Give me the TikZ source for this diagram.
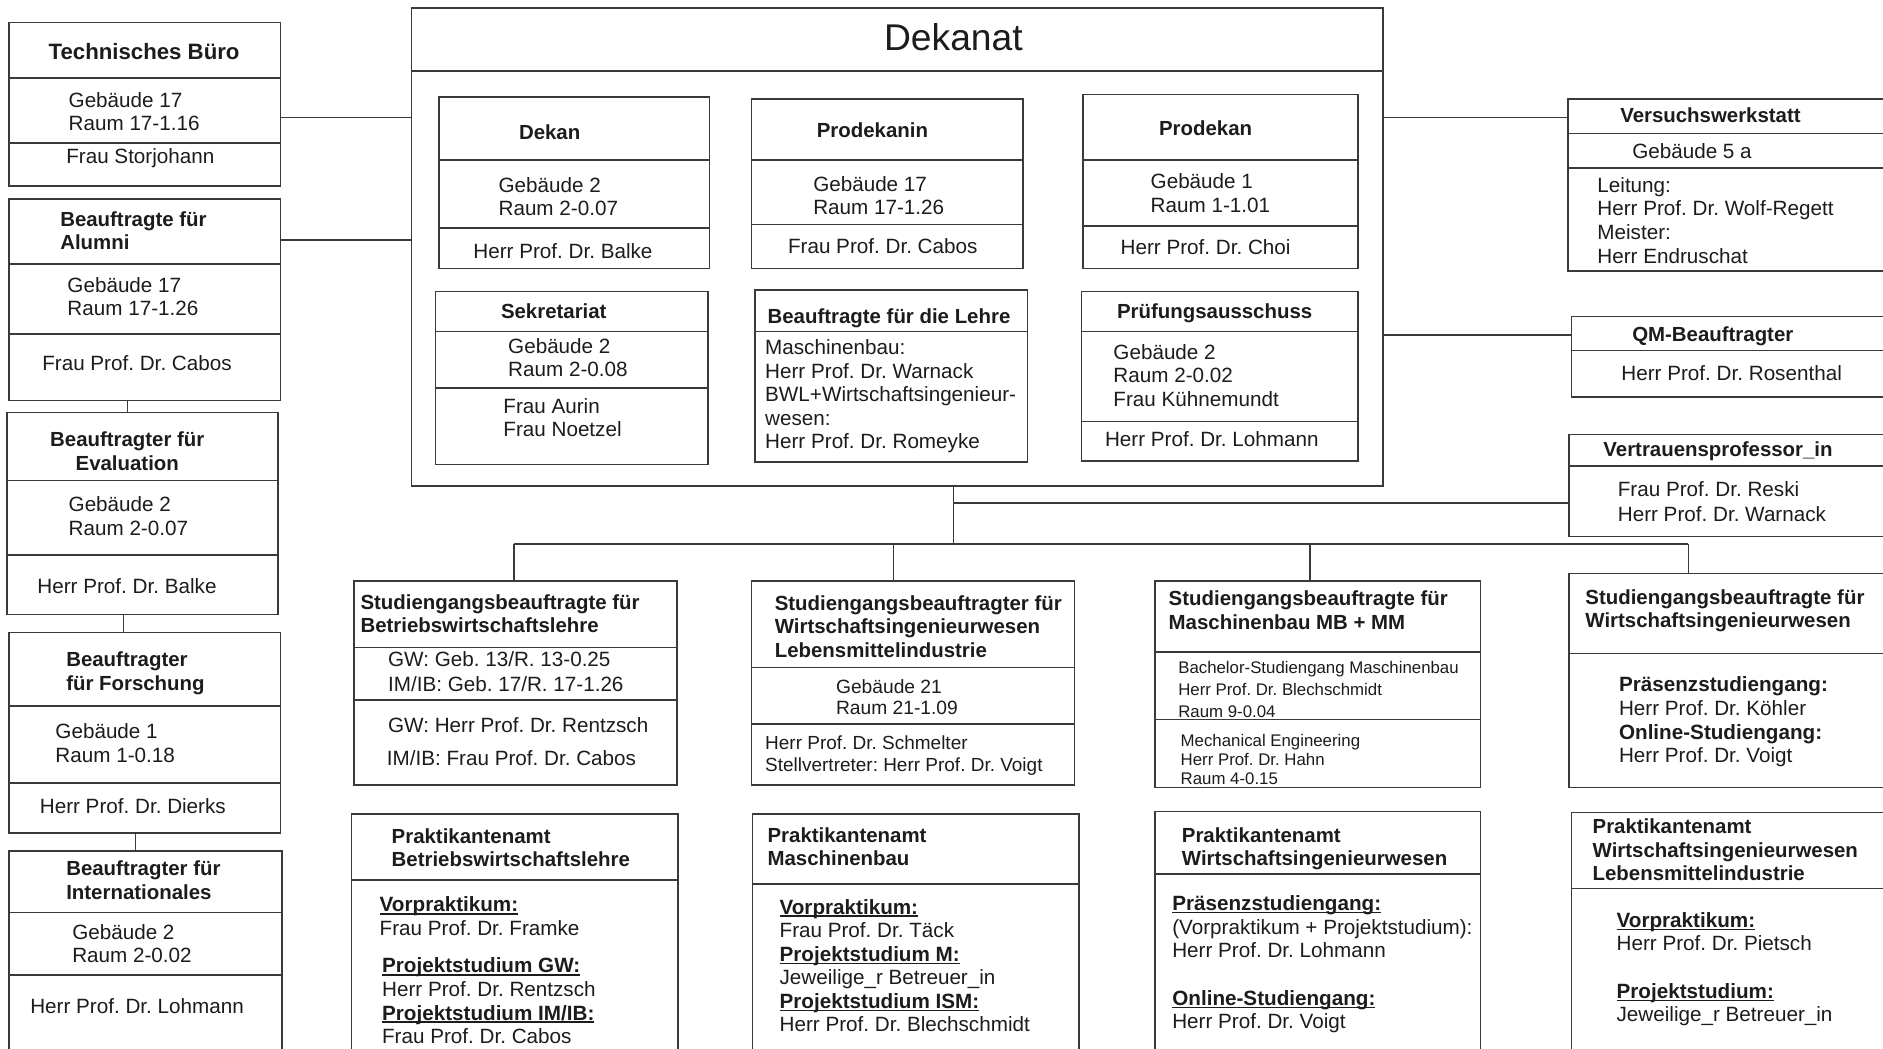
\documentclass[tikz,border=0pt]{standalone}
\usepackage{fontspec}
\setmainfont{Liberation Sans}
\frenchspacing
\definecolor{linec}{HTML}{3A3A3A}
\definecolor{textc}{HTML}{1C1C1C}
\newcommand\fR{\fontsize{17.2}{19.6}\selectfont}
\newcommand\fB{\fontsize{17}{19.6}\selectfont\bfseries}
\newcommand\fS{\fontsize{14}{18}\selectfont}
\newcommand\ms{\rule{0pt}{14pt}}
\newcommand\mss{\rule{0pt}{11.5pt}}
\newcommand\ulb[1]{\setbox0\hbox{\bfseries #1}\rlap{\rule[-2.4pt]{\wd0}{1.3pt}}\box0}
\tikzset{
  ln/.style={draw=linec, line width=1.3pt},
  box/.style={draw=linec, line width=1.3pt, inner sep=0pt},
  tx/.style={inner sep=0pt, anchor=north west, align=left, text=textc, font=\fR},
  tB/.style={tx, font=\fB},
  tBc/.style={inner sep=0pt, anchor=north, align=center, text=textc, font=\fB},
  tS/.style={tx, font=\fS},
}
\newcommand\bx[6]{%
  \node[box, anchor=north west, minimum width={(#4)-(#2)}, minimum height={(#5)-(#3)}] (#1) at (#2,#3) {};
  \foreach \dy in {#6} {\draw[ln] (#2,\dy) -- (#4,\dy);}
}
\begin{document}
\frenchspacing
\begin{tikzpicture}[x=1pt,y=-1pt]
\fill[white] (0,0) rectangle (1568,873);
\useasboundingbox (0,0) rectangle (1568,873);

% left column
\bx{tb}{7}{18}{233}{154}{65,119}
\bx{al}{7}{165}{233}{333}{220,278}
\bx{ev}{5}{343}{231}{511}{400,462}
\bx{fo}{7}{526}{233}{693}{588,652}
\bx{in}{7}{708}{234}{885}{760,812}

% Dekanat
\bx{dek}{342}{6}{1151}{404}{59}
\bx{dn}{365}{80}{590}{223}{133,190}
\bx{pdn}{625}{82}{851}{223}{133,187}
\bx{pd}{901}{78}{1130}{223}{133,188}
\bx{sk}{362}{242}{589}{386}{276,323}
\bx{le}{628}{241}{855}{384}{276}
\bx{pa}{900}{242}{1130}{383}{276,351}

% right column
\bx{vw}{1305}{82}{1585}{225}{111,140}
\bx{qm}{1308}{263}{1585}{330}{292}
\bx{vp}{1306}{361}{1585}{446}{388}

% lower rows
\bx{sb}{294}{483}{563}{653}{539,583}
\bx{sw}{625}{483}{894}{653}{556,603}
\bx{sm}{961}{483}{1232}{655}{543,599}
\bx{si}{1306}{477}{1585}{655}{544}
\bx{pb}{292}{677}{564}{885}{733}
\bx{pm}{626}{677}{898}{885}{736}
\bx{pw}{961}{675}{1232}{885}{728}
\bx{pl}{1308}{676}{1585}{885}{740}

% connectors
\draw[ln] (tb.east |- 0,98) -- (dek.west |- 0,98);
\draw[ln] (al.east |- 0,200) -- (dek.west |- 0,200);
\draw[ln] (al.south -| 106,0) -- (ev.north -| 106,0);
\draw[ln] (ev.south -| 103,0) -- (fo.north -| 103,0);
\draw[ln] (fo.south -| 113,0) -- (in.north -| 113,0);
\draw[ln] (dek.east |- 0,98) -- (vw.west |- 0,98);
\draw[ln] (dek.east |- 0,279) -- (qm.west |- 0,279);
\coordinate (bj) at (794,453);
\coordinate (bL) at (428,453);
\coordinate (bR) at (1406,453);
\coordinate (bM1) at (744,453);
\coordinate (bM2) at (1091,453);
\draw[ln] (dek.south -| bj) -- (bj);
\draw[ln] (bj |- 0,419) -- (vp.west |- 0,419);
\draw[ln] (bL) -- (bR);
\draw[ln] (bL) -- (bL |- sb.north);
\draw[ln] (bM1) -- (bM1 |- sw.north);
\draw[ln] (bM2) -- (bM2 |- sm.north);
\draw[ln] (bR) -- (bR |- si.north);

% texts left column
\node[tBc, font=\fontsize{18.5}{20}\selectfont\bfseries] (tbT) at (120,35) {\ms Technisches Büro};
\node[tx] (tbA) at (57,75) {\ms Gebäude 17\\Raum 17-1.16};
\node[tx] (tbB) at (55,122) {\ms Frau Storjohann};

\node[tB] (alT) at (50,174) {\ms Beauftragte für\\Alumni};
\node[tx] (alA) at (56,229) {\ms Gebäude 17\\Raum 17-1.26};
\node[tx] (alB) at (35,294) {\ms Frau Prof. Dr. Cabos};

\node[tBc] (evT) at (106,358) {\ms Beauftragter für\\Evaluation};
\node[tx] (evA) at (57,412) {\ms Gebäude 2\\Raum 2-0.07};
\node[tx] (evB) at (31,480) {\ms Herr Prof. Dr. Balke};

\node[tB] (foT) at (55,541) {\ms Beauftragter\\für Forschung};
\node[tx] (foA) at (46,601) {\ms Gebäude 1\\Raum 1-0.18};
\node[tx] (foB) at (33,663) {\ms Herr Prof. Dr. Dierks};

\node[tB] (inT) at (55,715) {\ms Beauftragter für\\Internationales};
\node[tx] (inA) at (60,768) {\ms Gebäude 2\\Raum 2-0.02};
\node[tx] (inB) at (25,830) {\ms Herr Prof. Dr. Lohmann};

% Dekanat texts
\node[inner sep=0pt, anchor=base west, text=textc, font=\fontsize{31}{36}\selectfont] (dekT) at (736,42) {Dekanat};

\node[tB] (dnT) at (432,102) {\ms Dekan};
\node[tx] (dnA) at (415,146) {\ms Gebäude 2\\Raum 2-0.07};
\node[tx] (dnB) at (394,201) {\ms Herr Prof. Dr. Balke};

\node[tB] (pdnT) at (680,100) {\ms Prodekanin};
\node[tx] (pdnA) at (677,145) {\ms Gebäude 17\\Raum 17-1.26};
\node[tx] (pdnB) at (656,197) {\ms Frau Prof. Dr. Cabos};

\node[tB] (pdT) at (965,99) {\ms Prodekan};
\node[tx] (pdA) at (958,143) {\ms Gebäude 1\\Raum 1-1.01};
\node[tx] (pdB) at (933,198) {\ms Herr Prof. Dr. Choi};

\node[tB] (skT) at (417,251) {\ms Sekretariat};
\node[tx] (skA) at (423,280) {\ms Gebäude 2\\Raum 2-0.08};
\node[tx] (skB) at (419,330) {\ms Frau Aurin\\Frau Noetzel};

\node[tB] (leT) at (639,255) {\ms Beauftragte für die Lehre};
\node[tx] (leA) at (637,281) {\ms Maschinenbau:\\Herr Prof. Dr. Warnack\\BWL+Wirtschaftsingenieur-\\wesen:\\Herr Prof. Dr. Romeyke};

\node[tB] (paT) at (930,251) {\ms Prüfungsausschuss};
\node[tx] (paA) at (927,285) {\ms Gebäude 2\\Raum 2-0.02\\Frau Kühnemundt};
\node[tx] (paB) at (920,358) {\ms Herr Prof. Dr. Lohmann};

% right column texts
\node[tB] (vwT) at (1349,88) {\ms Versuchswerkstatt};
\node[tx] (vwA) at (1359,118) {\ms Gebäude 5 a};
\node[tx] (vwB) at (1330,146) {\ms Leitung:\\Herr Prof. Dr. Wolf-Regett\\Meister:\\Herr Endruschat};

\node[tB] (qmT) at (1359,270) {\ms QM-Beauftragter};
\node[tx] (qmA) at (1350,303) {\ms Herr Prof. Dr. Rosenthal};

\node[tB] (vpT) at (1335,366) {\ms Vertrauensprofessor\_in};
\node[tx, font=\fontsize{17.2}{21}\selectfont] (vpA) at (1347,399) {\ms Frau Prof. Dr. Reski\\Herr Prof. Dr. Warnack};

% lower rows texts
\node[tB] (sbT) at (300,493) {\ms Studiengangsbeauftragte für\\Betriebswirtschaftslehre};
\node[tx, font=\fontsize{17.2}{21}\selectfont] (sbA) at (323,541) {\ms GW: Geb. 13/R. 13-0.25\\IM/IB: Geb. 17/R. 17-1.26};
\node[tx] (sbB) at (323,596) {\ms GW: Herr Prof. Dr. Rentzsch};
\node[tx] (sbC) at (322,623) {\ms IM/IB: Frau Prof. Dr. Cabos};

\node[tB] (swT) at (645,494) {\ms Studiengangsbeauftragter für\\Wirtschaftsingenieurwesen\\Lebensmittelindustrie};
\node[tx, font=\fontsize{16}{18}\selectfont] (swA) at (696,563) {\ms Gebäude 21\\Raum 21-1.09};
\node[tx, font=\fontsize{15.8}{18}\selectfont] (swB) at (637,610) {\ms Herr Prof. Dr. Schmelter\\Stellvertreter: Herr Prof. Dr. Voigt};

\node[tB] (smT) at (973,490) {\ms Studiengangsbeauftragte für\\Maschinenbau MB + MM};
\node[tS] (smA) at (981,549.5) {\mss Bachelor-Studiengang Maschinenbau\\Herr Prof. Dr. Blechschmidt\\Raum 9-0.04};
\node[tS, font=\fontsize{14}{16}\selectfont] (smB) at (983,609.5) {\mss Mechanical Engineering\\Herr Prof. Dr. Hahn\\Raum 4-0.15};

\node[tB] (siT) at (1320,489) {\ms Studiengangsbeauftragte für\\Wirtschaftsingenieurwesen};
\node[tx] (siA) at (1348,562) {\ms\textbf{Präsenzstudiengang:}\\Herr Prof. Dr. Köhler\\\textbf{Online-Studiengang:}\\Herr Prof. Dr. Voigt};

\node[tB] (pbT) at (326,688) {\ms Praktikantenamt\\Betriebswirtschaftslehre};
\node[tx] (pbA) at (316,745) {\ms\ulb{Vorpraktikum:}\\Frau Prof. Dr. Framke};
\node[tx] (pbB) at (318,796) {\ms\ulb{Projektstudium GW:}\\Herr Prof. Dr. Rentzsch\\\ulb{Projektstudium IM/IB:}\\Frau Prof. Dr. Cabos};

\node[tB] (pmT) at (639,687) {\ms Praktikantenamt\\Maschinenbau};
\node[tx] (pmA) at (649,747) {\ms\ulb{Vorpraktikum:}\\Frau Prof. Dr. Täck\\\ulb{Projektstudium M:}\\Jeweilige\_r Betreuer\_in\\\ulb{Projektstudium ISM:}\\Herr Prof. Dr. Blechschmidt};

\node[tB] (pwT) at (984,687) {\ms Praktikantenamt\\Wirtschaftsingenieurwesen};
\node[tx] (pwA) at (976,744) {\ms\ulb{Präsenzstudiengang:}\\(Vorpraktikum + Projektstudium):\\Herr Prof. Dr. Lohmann};
\node[tx] (pwB) at (976,823) {\ms\ulb{Online-Studiengang:}\\Herr Prof. Dr. Voigt};

\node[tB] (plT) at (1326,680) {\ms Praktikantenamt\\Wirtschaftsingenieurwesen\\Lebensmittelindustrie};
\node[tx] (plA) at (1346,758) {\ms\ulb{Vorpraktikum:}\\Herr Prof. Dr. Pietsch};
\node[tx] (plB) at (1346,817) {\ms\ulb{Projektstudium:}\\Jeweilige\_r Betreuer\_in};
\end{tikzpicture}
\end{document}
